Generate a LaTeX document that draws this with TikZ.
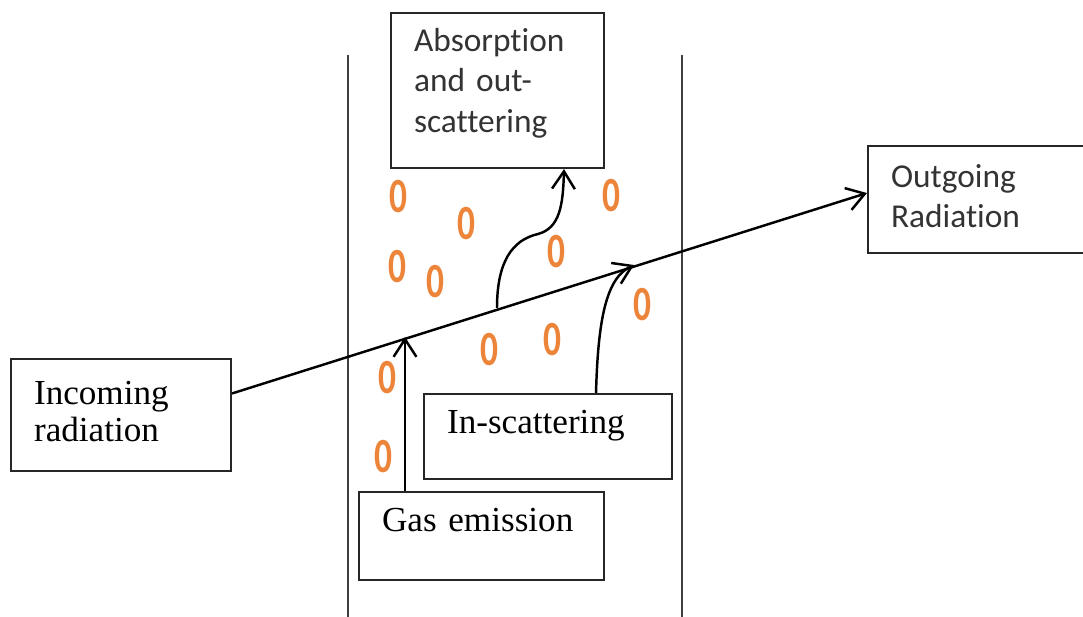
\documentclass[tikz,border=0pt]{standalone}
\usepackage{fontspec}
\setmainfont{Liberation Serif}
\newfontfamily\calib[Ligatures=NoCommon]{Carlito}
\usepackage{tikz}
\usetikzlibrary{arrows.meta}
\definecolor{partcol}{RGB}{236,133,58}

\begin{document}
\begin{tikzpicture}[x=0.02cm,y=-0.02cm,->,>={Straight Barb[length=10pt,width=13pt]},
		line width=1.4pt]
		\tikzstyle{box}=[draw=black!85,line width=1.2pt,anchor=north west,align=left,
			inner xsep=0.46cm,inner ysep=0.26cm,text height=0.5cm]
		\tikzstyle{sansbox}=[box,font=\calib\fontsize{19}{23.3}\selectfont,text=black!80]
		\tikzstyle{serifbox}=[box,font=\fontsize{20}{21.6}\selectfont]
		\tikzstyle{particle}=[text=partcol,inner sep=0pt,
			font=\calib\bfseries\fontsize{28}{28}\selectfont]
		\tikzstyle{wall}=[-,draw=black!75,line width=1.4pt]
		
		\clip (0,0) rectangle (1083,617);
		
		% walls of the gas layer
		\draw[wall] (348,55) -- (348,617);
		\draw[wall] (682,55) -- (682,617);
		
		\node[sansbox,text width=3.34cm,text depth=2.08cm] (abs) at (390,12)
			{Absorption\\and out-\\scattering};
		\node[sansbox,text width=3.64cm,text height=0.56cm,text depth=1.06cm] (outg) at (867,145)
			{Outgoing\\Radiation};
		\node[serifbox,text width=3.48cm,text height=0.64cm,text depth=1.08cm] (inc) at (10,358)
			{Incoming\\radiation};
		\node[serifbox,text width=4.04cm,text height=0.52cm,text depth=0.66cm] (ins) at (423,393)
			{In-scattering};
		\node[serifbox,text width=3.98cm,text height=0.52cm,text depth=0.72cm] (gas) at (358,491)
			{Gas emission};
		
		% particles
		\node[particle] (z1) at (398,197) {\scalebox{0.72}[1]{0}};
		\node[particle] (z2) at (466,224) {\scalebox{0.72}[1]{0}};
		\node[particle] (z3) at (397,267) {\scalebox{0.72}[1]{0}};
		\node[particle] (z4) at (435,282) {\scalebox{0.72}[1]{0}};
		\node[particle] (z5) at (556,252) {\scalebox{0.72}[1]{0}};
		\node[particle] (z6) at (611,196) {\scalebox{0.72}[1]{0}};
		\node[particle] (z7) at (642,305) {\scalebox{0.72}[1]{0}};
		\node[particle] (z8) at (489,350) {\scalebox{0.72}[1]{0}};
		\node[particle] (z9) at (552,340) {\scalebox{0.72}[1]{0}};
		\node[particle] (z10) at (387,378) {\scalebox{0.72}[1]{0}};
		\node[particle] (z11) at (383,457) {\scalebox{0.72}[1]{0}};
		
		% points on the beam
		\coordinate (p1) at (497,308);
		\coordinate (p2) at (634,265);
		\coordinate (p3) at (405,337);
		
		\draw (inc.11) -- ([yshift=0.13cm]outg.west);
		\draw (p1) .. controls (497,262) and (512,240) .. (538,234)
			.. controls (560,228) and (563,205) .. ([xshift=1.33cm]abs.south);
		\draw ([xshift=0.96cm]ins.north) .. controls (598,320) and (606,278) .. (p2);
		\draw (p3 |- gas.north) -- (p3);
\end{tikzpicture}
\end{document}
